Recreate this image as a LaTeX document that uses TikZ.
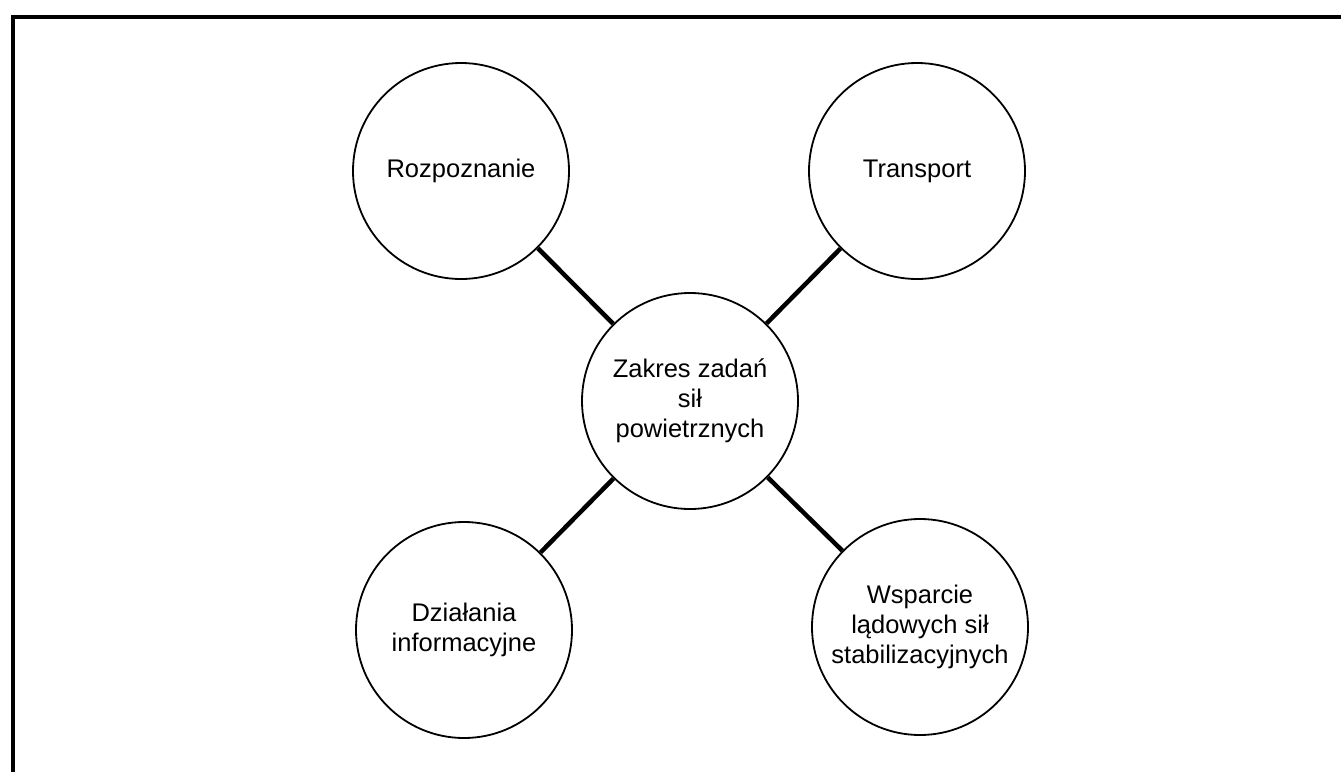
\documentclass[tikz,border=0pt]{standalone}
\usepackage{fontspec}
\setmainfont{Liberation Sans}
\begin{document}
\begin{tikzpicture}[x=1pt,y=-1pt,
  topic/.style={circle, draw=black, line width=1.8pt, fill=white,
    minimum size=216pt, inner sep=0pt, align=center,
    font=\fontsize{25.5}{30}\selectfont},
  link/.style={line width=4.5pt, black},
  frameline/.style={line width=4pt, black}]
  \useasboundingbox[fill=white] (0,0) rectangle (1341,772);
  % open frame: left and top edges only
  \coordinate (fbl) at (12.5,772);
  \coordinate (ftl) at (12.5,16.5);
  \coordinate (ftr) at (1341,16.5);
  \draw[frameline] (fbl) -- (ftl) -- (ftr);

  \node[topic] (center) at (690,401) {Zakres zadań\\sił\\powietrznych};
  \node[topic] (recon) at (461,171) {Rozpoznanie};
  \node[topic] (trans) at (917,171) {Transport};
  \node[topic] (info)  at (464,630) {Działania\\informacyjne};
  \node[topic] (supp)  at (920,627) {Wsparcie\\lądowych sił\\stabilizacyjnych};

  \draw[link] (center) -- (recon);
  \draw[link] (center) -- (trans);
  \draw[link] (center) -- (info);
  \draw[link] (center) -- (supp);
\end{tikzpicture}
\end{document}
